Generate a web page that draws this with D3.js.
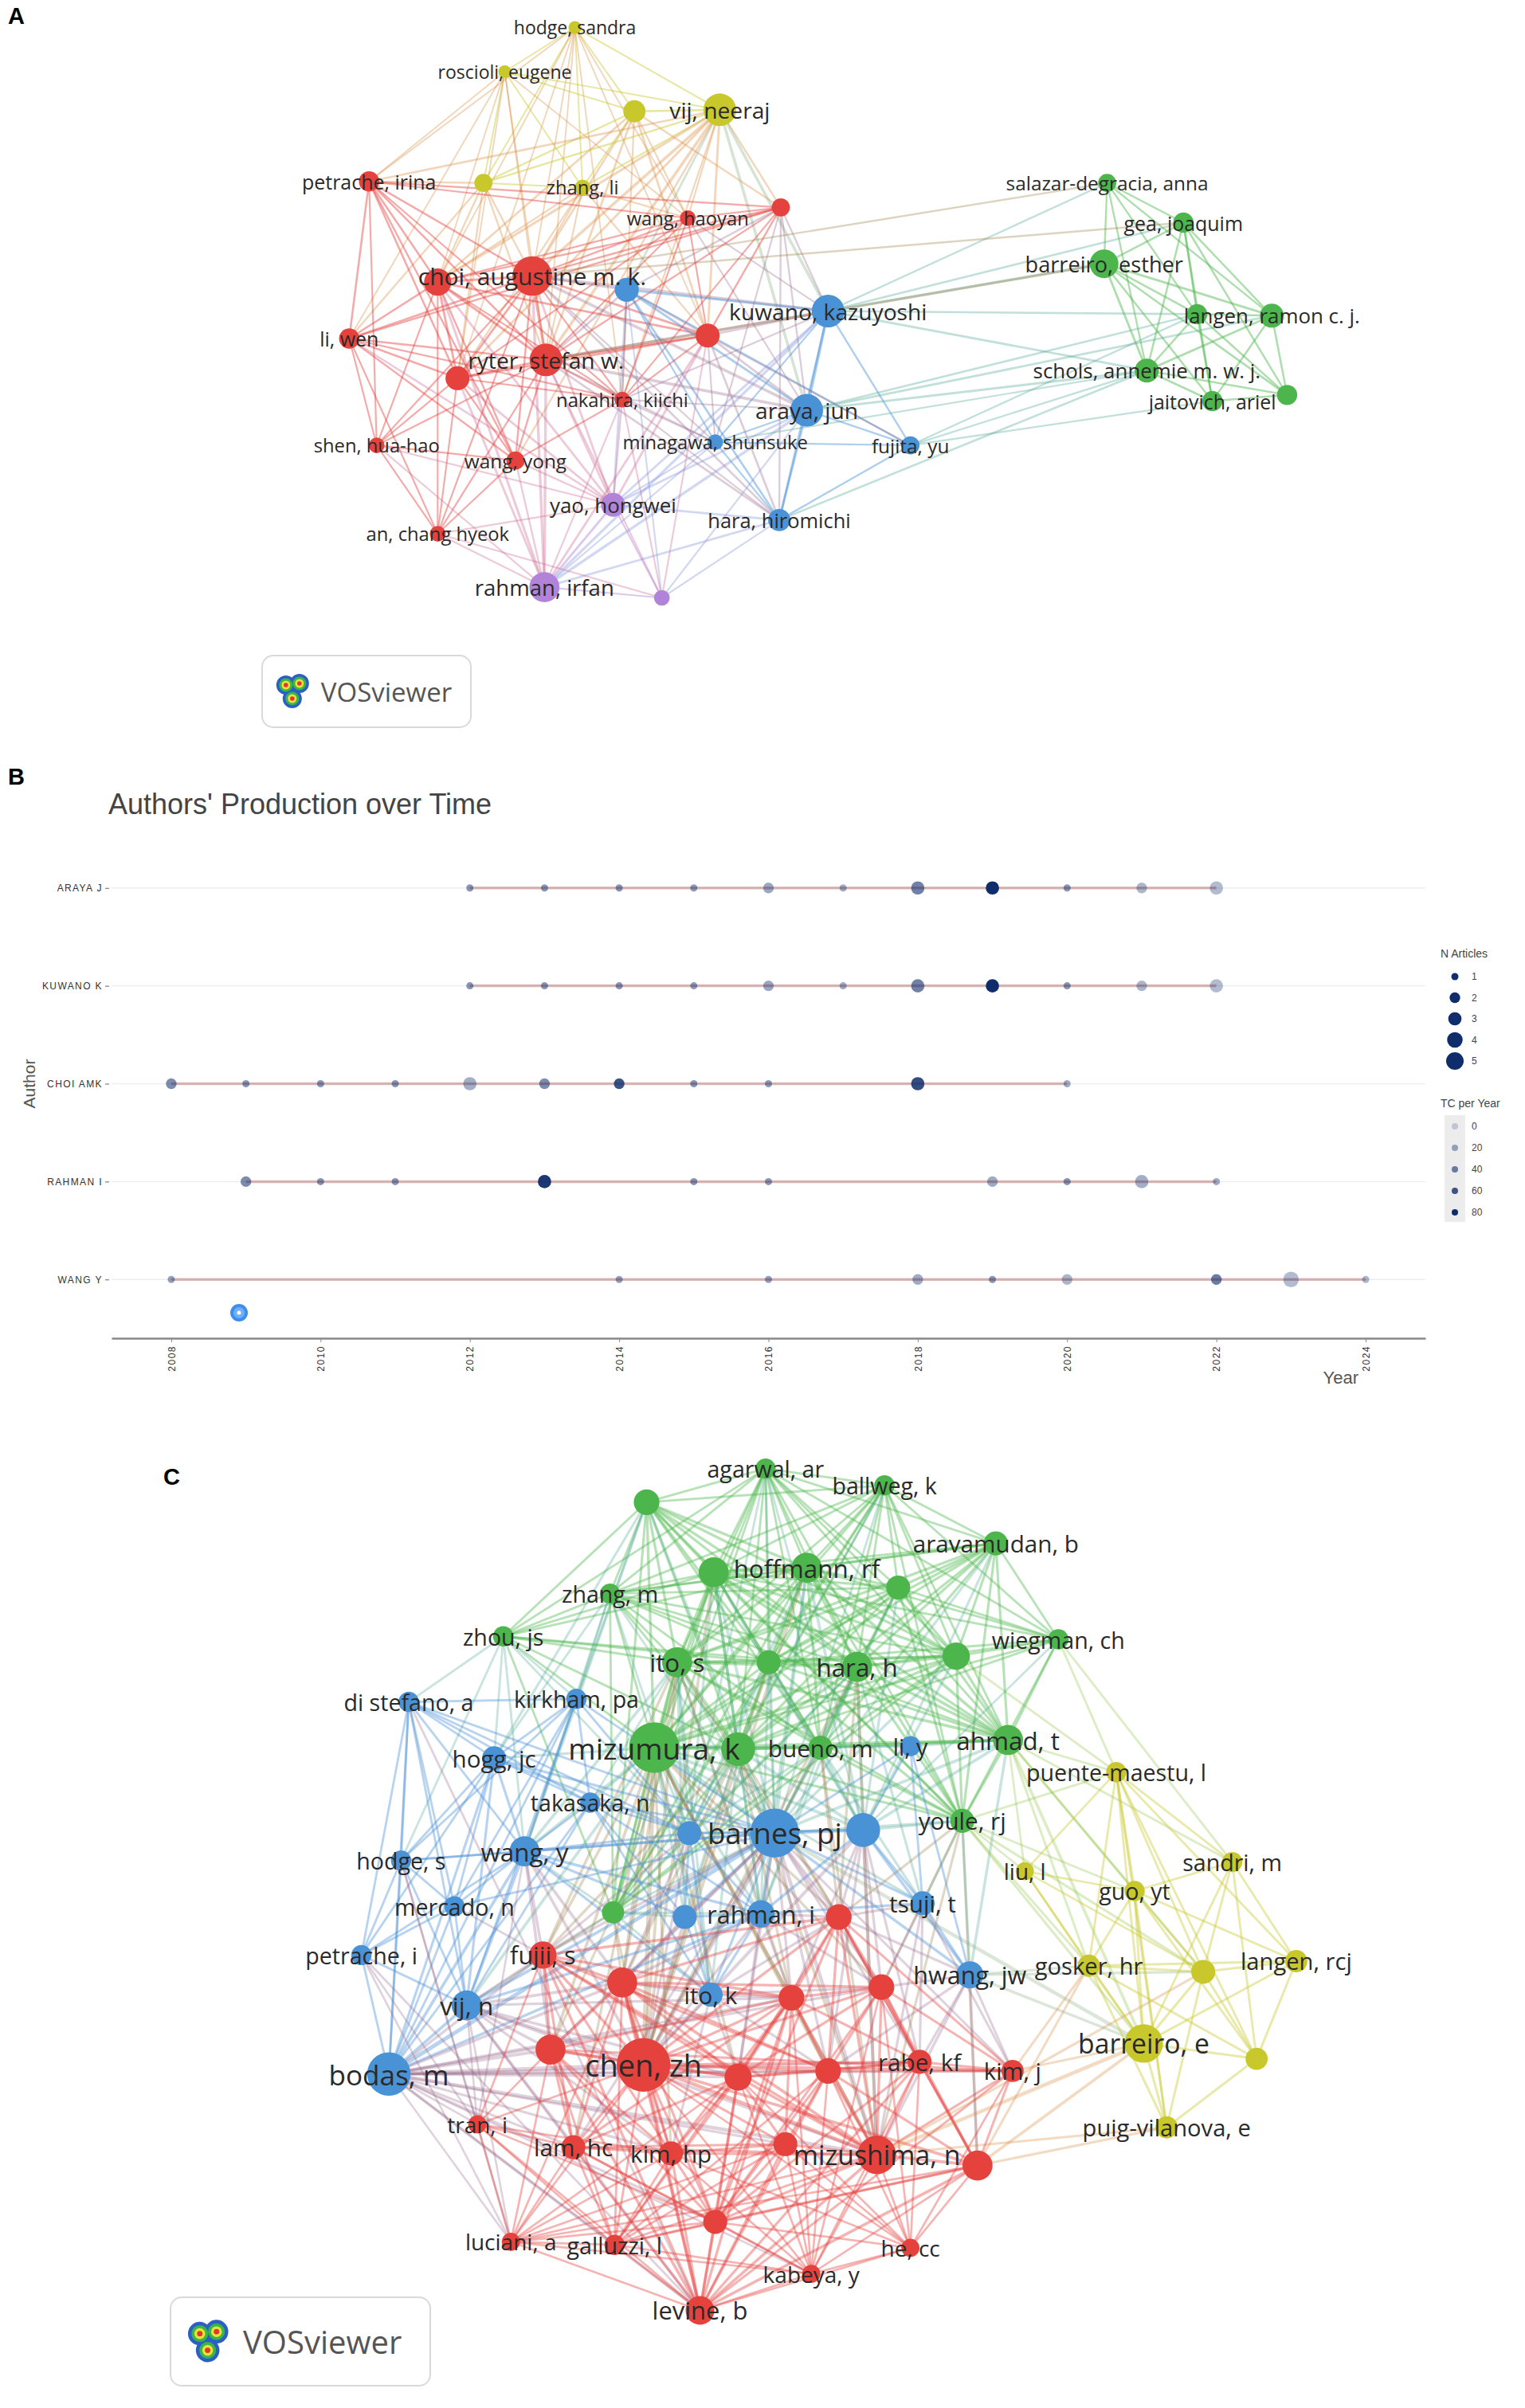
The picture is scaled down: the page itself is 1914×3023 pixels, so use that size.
<!DOCTYPE html>
<html>
<head>
<meta charset="utf-8">
<script src="https://cdn.jsdelivr.net/npm/d3@7"></script>
<style>
  body { margin: 0; background: #fff; }
  svg { display: block; }
</style>
</head>
<body>
<svg id="fig"></svg>
<script>
// ---------- cluster colours (VOSviewer) ----------
const clusterColors = {
  red: "#e5423e", green: "#4cb64c", blue: "#4a92d6", yellow: "#c8c82c", purple: "#b184da"
};

// ---------- panel A : nodes [id, label, cluster, layoutX, layoutY, documents] ----------
const nodesA = [
  ["hodge", "hodge, sandra", "yellow", 377, 18, 2],
  ["roscioli", "roscioli, eugene", "yellow", 331, 47, 2],
  ["y1", "", "yellow", 416, 73, 6],
  ["vij", "vij, neeraj", "yellow", 472, 72, 13],
  ["y2", "", "yellow", 317, 120, 4],
  ["zhangli", "zhang, li", "yellow", 382, 123, 3],
  ["petrache", "petrache, irina", "red", 242, 119, 5],
  ["wanghy", "wang, haoyan", "red", 451, 143, 3],
  ["r1", "", "red", 512, 136, 4],
  ["choi", "choi, augustine m. k.", "red", 349, 181, 19],
  ["r2", "", "red", 287, 185, 9],
  ["b1", "", "blue", 411, 190, 7],
  ["kuwano", "kuwano, kazuyoshi", "blue", 543, 204, 13],
  ["r3", "", "red", 464, 220, 7],
  ["liwen", "li, wen", "red", 229, 222, 5],
  ["ryter", "ryter, stefan w.", "red", 358, 236, 13],
  ["r4", "", "red", 300, 248, 7],
  ["nakahira", "nakahira, kiichi", "red", 408, 262, 3],
  ["araya", "araya, jun", "blue", 529, 269, 13],
  ["minagawa", "minagawa, shunsuke", "blue", 469, 290, 3],
  ["fujita", "fujita, yu", "blue", 597, 292, 4],
  ["shen", "shen, hua-hao", "red", 247, 292, 3],
  ["wangyong", "wang, yong", "red", 338, 302, 4],
  ["yao", "yao, hongwei", "purple", 402, 331, 7],
  ["hara", "hara, hiromichi", "blue", 511, 341, 6],
  ["an", "an, chang hyeok", "red", 287, 350, 3],
  ["rahman", "rahman, irfan", "purple", 357, 385, 11],
  ["p1", "", "purple", 434, 392, 3],
  ["salazar", "salazar-degracia, anna", "green", 726, 120, 4],
  ["gea", "gea, joaquim", "green", 776, 146, 5],
  ["barreiro", "barreiro, esther", "green", 724, 173, 10],
  ["g1", "", "green", 785, 206, 5],
  ["langen", "langen, ramon c. j.", "green", 834, 207, 7],
  ["schols", "schols, annemie m. w. j.", "green", 752, 243, 7],
  ["jaitovich", "jaitovich, ariel", "green", 795, 263, 5],
  ["g2", "", "green", 844, 259, 5]
];

const linksA = [
  "hodge: roscioli y1 vij y2 zhangli choi r2 ryter r3 wanghy nakahira petrache r4",
  "roscioli: y1 vij y2 zhangli choi r2 ryter r4 wanghy petrache liwen",
  "y1: vij y2 zhangli choi r2 ryter r3 r1 wanghy nakahira",
  "vij: y2 zhangli choi r2 ryter r3 r1 wanghy nakahira b1 kuwano araya r4 wangyong petrache",
  "y2: zhangli choi r2 ryter petrache r4 liwen",
  "zhangli: choi r2 ryter wanghy r3 r4",
  "petrache: choi r2 liwen ryter r4 shen wanghy r1 nakahira wangyong",
  "wanghy: r1 choi r2 ryter r3 r4 nakahira kuwano araya",
  "r1: choi r2 ryter r3 b1 kuwano araya liwen nakahira minagawa hara",
  "choi: r2 r3 liwen ryter r4 nakahira shen wangyong an b1 kuwano araya minagawa hara yao rahman",
  "r2: r3 liwen ryter r4 nakahira shen wangyong an yao rahman",
  "b1: kuwano araya minagawa hara yao ryter r3 nakahira fujita p1",
  "kuwano: r3 araya minagawa fujita hara yao salazar gea barreiro g1 schols ryter nakahira rahman",
  "r3: ryter r4 nakahira araya minagawa hara yao rahman p1 fujita",
  "liwen: ryter r4 shen wangyong an nakahira yao",
  "ryter: r4 nakahira shen wangyong an araya minagawa hara yao rahman p1",
  "r4: nakahira shen wangyong an yao rahman",
  "nakahira: wangyong araya minagawa hara yao rahman p1",
  "araya: minagawa fujita hara yao rahman p1 g1 schols langen",
  "minagawa: fujita hara yao rahman",
  "fujita: hara schols jaitovich g1",
  "shen: wangyong an yao rahman",
  "wangyong: an yao rahman",
  "yao: hara rahman p1",
  "hara: rahman p1",
  "an: rahman yao p1",
  "rahman: p1",
  "salazar: gea barreiro g1 langen schols choi",
  "gea: barreiro g1 langen schols jaitovich g2 choi",
  "barreiro: g1 langen schols jaitovich g2 ryter",
  "g1: langen schols jaitovich g2",
  "langen: schols jaitovich g2",
  "schols: jaitovich g2 hara minagawa",
  "jaitovich: g2"
];

// ---------- panel C : nodes [id, label, cluster, layoutX, layoutY, documents] ----------
const nodesC = [
  ["agarwal", "agarwal, ar", "green", 502, 963, 5],
  ["ballweg", "ballweg, k", "green", 580, 974, 5],
  ["ga", "", "green", 424, 985, 8],
  ["aravamudan", "aravamudan, b", "green", 653, 1012, 7],
  ["gb", "", "green", 468, 1031, 11],
  ["hoffmann", "hoffmann, rf", "green", 529, 1028, 11],
  ["gc", "", "green", 589, 1041, 7],
  ["zhangm", "zhang, m", "green", 400, 1045, 5],
  ["zhou", "zhou, js", "green", 330, 1073, 5],
  ["itos", "ito, s", "green", 444, 1090, 11],
  ["gd", "", "green", 504, 1090, 7],
  ["harah", "hara, h", "green", 562, 1093, 11],
  ["ge", "", "green", 627, 1086, 9],
  ["wiegman", "wiegman, ch", "green", 694, 1075, 5],
  ["mizumura", "mizumura, k", "green", 429, 1146, 31],
  ["gf", "", "green", 484, 1147, 14],
  ["bueno", "bueno, m", "green", 538, 1146, 7],
  ["ahmad", "ahmad, t", "green", 661, 1141, 11],
  ["youle", "youle, rj", "green", 631, 1194, 7],
  ["gg", "", "green", 402, 1254, 6],
  ["distefano", "di stefano, a", "blue", 268, 1116, 5],
  ["kirkham", "kirkham, pa", "blue", 378, 1114, 5],
  ["hogg", "hogg, jc", "blue", 324, 1153, 7],
  ["takasaka", "takasaka, n", "blue", 387, 1182, 5],
  ["hodges", "hodge, s", "blue", 263, 1220, 5],
  ["wangy", "wang, y", "blue", 344, 1214, 11],
  ["ba", "", "blue", 452, 1202, 7],
  ["barnes", "barnes, pj", "blue", 508, 1202, 29],
  ["bb", "", "blue", 566, 1200, 14],
  ["liy", "li, y", "blue", 597, 1145, 5],
  ["mercado", "mercado, n", "blue", 298, 1250, 5],
  ["bc", "", "blue", 449, 1257, 7],
  ["rahmani", "rahman, i", "blue", 499, 1255, 9],
  ["tsuji", "tsuji, t", "blue", 605, 1248, 7],
  ["petrachei", "petrache, i", "blue", 237, 1282, 5],
  ["vijn", "vij, n", "blue", 306, 1315, 11],
  ["itok", "ito, k", "blue", 466, 1308, 7],
  ["hwang", "hwang, jw", "blue", 636, 1295, 9],
  ["bodas", "bodas, m", "blue", 255, 1360, 23],
  ["fujii", "fujii, s", "red", 356, 1282, 9],
  ["ra", "", "red", 408, 1300, 11],
  ["rb", "", "red", 550, 1257, 8],
  ["rc", "", "red", 519, 1310, 8],
  ["rd", "", "red", 578, 1303, 8],
  ["re", "", "red", 361, 1344, 11],
  ["chen", "chen, zh", "red", 422, 1354, 35],
  ["rf", "", "red", 484, 1362, 9],
  ["rf2", "", "red", 543, 1358, 8],
  ["rabe", "rabe, kf", "red", 603, 1352, 7],
  ["kimj", "kim, j", "red", 664, 1358, 6],
  ["tran", "tran, i", "red", 313, 1393, 4],
  ["lam", "lam, hc", "red", 376, 1408, 7],
  ["kimhp", "kim, hp", "red", 440, 1412, 7],
  ["rj", "", "red", 515, 1406, 7],
  ["mizushima", "mizushima, n", "red", 575, 1413, 18],
  ["rh", "", "red", 641, 1420, 11],
  ["ri", "", "red", 469, 1457, 7],
  ["luciani", "luciani, a", "red", 335, 1470, 4],
  ["galluzzi", "galluzzi, l", "red", 403, 1472, 5],
  ["kabeya", "kabeya, y", "red", 532, 1491, 4],
  ["hecc", "he, cc", "red", 597, 1474, 4],
  ["levine", "levine, b", "red", 459, 1515, 10],
  ["puente", "puente-maestu, l", "yellow", 732, 1162, 5],
  ["liu", "liu, l", "yellow", 672, 1227, 4],
  ["sandri", "sandri, m", "yellow", 808, 1221, 5],
  ["guo", "guo, yt", "yellow", 744, 1240, 5],
  ["gosker", "gosker, hr", "yellow", 714, 1289, 6],
  ["ya", "", "yellow", 789, 1293, 7],
  ["langenr", "langen, rcj", "yellow", 850, 1286, 6],
  ["barreiroe", "barreiro, e", "yellow", 750, 1340, 18],
  ["yb", "", "yellow", 824, 1350, 6],
  ["puig", "puig-vilanova, e", "yellow", 765, 1395, 6]
];

const linksC = [
  "agarwal: ballweg ga aravamudan gb hoffmann gc zhangm itos gd harah ge mizumura gf bueno ahmad gg barnes wiegman youle zhou ba bb",
  "ballweg: ga aravamudan gb hoffmann gc itos gd harah ge wiegman mizumura gf bueno ahmad youle barnes zhangm gg ba",
  "ga: gb hoffmann zhangm zhou itos gd harah mizumura gf bueno gg wangy hogg kirkham ge youle ahmad barnes",
  "aravamudan: gb hoffmann gc itos gd harah ge wiegman mizumura gf ahmad youle barnes bb zhangm bueno",
  "gb: hoffmann gc zhangm zhou itos gd harah ge wiegman mizumura gf bueno ahmad youle gg barnes chen bb ba rahmani",
  "hoffmann: gc itos gd harah ge wiegman mizumura gf bueno ahmad youle barnes ba bb zhangm zhou gg rahmani chen",
  "gc: itos gd harah ge wiegman mizumura gf bueno ahmad youle zhangm barnes bb",
  "zhangm: zhou itos gd mizumura gf gg wangy hogg kirkham harah ge bueno ahmad barnes ba",
  "zhou: itos mizumura gf gg distefano kirkham hogg wangy ba hodges harah gd",
  "itos: gd harah ge mizumura gf bueno ahmad youle gg barnes ba bc chen ra wangy takasaka rahmani itok fujii rb rc",
  "gd: harah ge wiegman mizumura gf bueno ahmad youle barnes bb gg ba rahmani chen",
  "harah: ge wiegman mizumura gf bueno ahmad youle barnes bb rahmani chen mizushima gg ba tsuji rb",
  "ge: wiegman mizumura gf bueno ahmad youle barnes bb gg puente",
  "wiegman: mizumura gf ahmad youle puente sandri bb",
  "mizumura: gf bueno ahmad youle gg wangy ba barnes bb bc rahmani itok fujii ra chen mizushima vijn hogg takasaka liy tsuji rb rc re rf kimhp lam rd rf2",
  "gf: bueno ahmad youle gg barnes bb rahmani chen ra ba bc itok fujii rb rc mizushima",
  "bueno: ahmad youle barnes bb chen mizushima rb gg ba liy tsuji rahmani",
  "ahmad: youle barnes bb puente liu guo gosker barreiroe liy hwang sandri ya",
  "youle: barnes bb puente liu gosker barreiroe mizushima rh tsuji hwang guo ya rb rd",
  "gg: wangy ba barnes bc fujii ra chen vijn rahmani itok re",
  "distefano: kirkham hogg hodges wangy barnes petrachei vijn bodas mercado takasaka ba levine",
  "kirkham: hogg takasaka wangy barnes bodas vijn ba hodges mercado",
  "hogg: takasaka hodges wangy barnes petrachei vijn bodas mercado ba",
  "takasaka: wangy barnes itok bodas vijn ba bc rahmani",
  "hodges: wangy barnes petrachei vijn bodas mercado tran luciani",
  "wangy: ba barnes mercado petrachei vijn bodas fujii chen bc rahmani itok re tran ra",
  "ba: barnes bb bc rahmani chen ra itok fujii",
  "barnes: bb liy bc rahmani tsuji vijn itok hwang bodas fujii ra rb chen mizushima barreiroe rabe kimj rc rd rf rf2 re lam mercado",
  "bb: liy rahmani tsuji hwang rb chen mizushima rc rd rf2 rabe",
  "liy: tsuji hwang",
  "mercado: petrachei vijn bodas fujii",
  "bc: rahmani itok ra chen",
  "rahmani: tsuji vijn itok bodas chen ra rb rc rd rf",
  "tsuji: hwang rb rd mizushima rabe kimj",
  "petrachei: vijn bodas levine luciani tran",
  "vijn: bodas fujii re chen tran lam luciani ra rc rf mizushima kimhp levine",
  "itok: ra rc chen rf rb rd rf2 kimhp",
  "hwang: rd rabe kimj mizushima rh gosker rb rf2 ya barreiroe",
  "bodas: fujii re chen tran lam luciani levine kimhp galluzzi ra rf rc rd rf2 mizushima rj ri kimj rabe kabeya",
  "fujii: ra rc re chen rf tran lam kimhp mizushima rb rf2 levine",
  "ra: rb rc rd re chen rf rf2 lam kimhp mizushima levine ri luciani galluzzi",
  "rb: rc rd chen rf rf2 rabe mizushima rh kimj ri",
  "rc: rd re chen rf rf2 rabe lam kimhp rj mizushima ri levine galluzzi kabeya",
  "rd: chen rf rf2 rabe kimj mizushima rh ri kabeya hecc",
  "re: chen rf tran lam kimhp luciani galluzzi levine ri kimj",
  "chen: rf rf2 rabe kimj tran lam kimhp rj mizushima rh ri luciani galluzzi kabeya hecc levine",
  "rf: rf2 rabe lam kimhp rj mizushima ri galluzzi levine kabeya hecc luciani",
  "rf2: rabe kimj rj mizushima rh ri kabeya hecc levine galluzzi",
  "rabe: kimj mizushima rh ri hecc kabeya levine",
  "kimj: mizushima rh barreiroe gosker hecc levine",
  "tran: lam kimhp luciani galluzzi levine ri",
  "lam: kimhp rj mizushima luciani galluzzi levine ri kabeya",
  "kimhp: rj mizushima ri luciani galluzzi levine kabeya hecc",
  "rj: mizushima ri kabeya levine luciani galluzzi hecc",
  "mizushima: rh ri luciani galluzzi kabeya hecc levine barreiroe ya puig",
  "rh: ri kabeya hecc levine barreiroe gosker puig luciani galluzzi",
  "ri: luciani galluzzi kabeya hecc levine",
  "luciani: galluzzi levine kabeya",
  "galluzzi: levine kabeya",
  "kabeya: hecc levine",
  "hecc: levine",
  "puente: liu sandri guo gosker ya langenr barreiroe yb puig",
  "liu: guo gosker ya barreiroe",
  "sandri: guo ya langenr barreiroe yb",
  "guo: gosker ya langenr barreiroe yb puig",
  "gosker: ya langenr barreiroe yb puig",
  "ya: langenr barreiroe yb puig",
  "langenr: barreiroe yb",
  "barreiroe: yb puig",
  "yb: puig"
];

// ---------- panel B : authors' production over time [year, N articles, TC per year] ----------
const authorsB = ["ARAYA J", "KUWANO K", "CHOI AMK", "RAHMAN I", "WANG Y"];
const arayaJ = [[2012,1,30],[2013,1,30],[2014,1,30],[2015,1,28],[2016,2,22],[2017,1,20],[2018,3,40],[2019,3,80],[2020,1,30],[2021,2,15],[2022,3,12]];
const kuwanoK = [[2012,1,30],[2013,1,30],[2014,1,30],[2015,1,28],[2016,2,22],[2017,1,20],[2018,3,40],[2019,3,80],[2020,1,30],[2021,2,15],[2022,3,12]];
const choiAMK = [[2008,2,35],[2009,1,30],[2010,1,30],[2011,1,30],[2012,3,18],[2013,2,35],[2014,2,62],[2015,1,30],[2016,1,28],[2018,3,65],[2020,1,20]];
const rahmanI = [[2009,2,35],[2010,1,30],[2011,1,30],[2013,3,75],[2015,1,30],[2016,1,28],[2019,2,20],[2020,1,30],[2021,3,18],[2022,1,20]];
const wangY = [[2008,1,25],[2014,1,25],[2016,1,25],[2018,2,20],[2019,1,30],[2020,2,15],[2022,2,42],[2023,4,12],[2024,1,15]];
const yearTicks = [2008, 2010, 2012, 2014, 2016, 2018, 2020, 2022, 2024];
const nArticlesLegend = [1, 2, 3, 4, 5];
const tcLegend = [0, 20, 40, 60, 80];

// ---------- figure ----------
const W = 1914, H = 3023;
const svg = d3.select("#fig").attr("width", W).attr("height", H);
svg.append("rect").attr("width", W).attr("height", H).attr("fill", "#fff");

// layout coordinates were read on a 1000-wide grid of the figure
const sx = d3.scaleLinear().domain([0, 1000]).range([0, W]);
const sy = d3.scaleLinear().domain([0, 1579]).range([0, H]);
const rScale = d3.scaleSqrt().domain([0, 40]).range([0, 36]);

function toNodes(rows) {
  return rows.map(([id, label, cluster, x, y, docs]) => ({id, label, cluster, x, y, docs}));
}

function drawNetwork(g, rows, linkLines, opts) {
  const nodes = toNodes(rows);
  const byId = new Map(nodes.map(d => [d.id, d]));
  const links = [];
  const seen = new Set();
  linkLines.forEach(line => {
    const [s, rest] = line.split(":");
    const src = byId.get(s.trim());
    rest.trim().split(/\s+/).forEach(t => {
      const tgt = byId.get(t);
      if (!src || !tgt) { console.warn("missing node", s, t); return; }
      const key = [src.id, tgt.id].sort().join("|");
      if (seen.has(key)) return;
      seen.add(key);
      links.push({source: src, target: tgt});
    });
  });

  const widthScale = d3.scaleSqrt().domain([1, 30]).range(opts.linkWidth).clamp(true);
  const linkColor = d => {
    const a = clusterColors[d.source.cluster], b = clusterColors[d.target.cluster];
    return a === b ? a : d3.interpolateRgb(a, b)(0.5);
  };

  g.append("g")
    .selectAll("line")
    .data(links)
    .join("line")
      .attr("x1", d => sx(d.source.x))
      .attr("y1", d => sy(d.source.y))
      .attr("x2", d => sx(d.target.x))
      .attr("y2", d => sy(d.target.y))
      .attr("stroke", linkColor)
      .attr("stroke-opacity", d => d.source.cluster === d.target.cluster ? opts.linkOpacity : opts.linkOpacity * 0.75)
      .attr("stroke-width", d => widthScale(Math.min(d.source.docs, d.target.docs)))
      .attr("stroke-linecap", "round");

  g.append("g")
    .selectAll("circle")
    .data(nodes)
    .join("circle")
      .attr("cx", d => sx(d.x))
      .attr("cy", d => sy(d.y))
      .attr("r", d => rScale(d.docs))
      .attr("fill", d => clusterColors[d.cluster]);

  g.append("g")
    .selectAll("text")
    .data(nodes.filter(d => d.label))
    .join("text")
      .attr("x", d => sx(d.x))
      .attr("y", d => sy(d.y))
      .attr("text-anchor", "middle")
      .attr("dominant-baseline", "central")
      .attr("font-family", "'Open Sans', sans-serif")
      .attr("font-size", d => opts.font(d.docs))
      .attr("fill", "#2a2a2a")
      .text(d => d.label);
}

// VOSviewer badge
function drawLogo(g, x, y, w, h, fs) {
  const logo = g.append("g").attr("transform", `translate(${x},${y})`);
  logo.append("rect")
    .attr("width", w).attr("height", h).attr("rx", 14)
    .attr("fill", "#fff").attr("stroke", "#d9d9d9").attr("stroke-width", 2);
  const k = h / 90;
  const icon = logo.append("g").attr("transform", `translate(${h * 0.42},${h * 0.5}) scale(${k})`);
  const lobes = [[-8, -8], [9, -10], [0, 9]];
  [["#2b5fc4", 12], ["#39b54a", 8.5], ["#e8e23a", 5.5], ["#e2372b", 2.8]].forEach(([c, r]) => {
    icon.selectAll(null).data(lobes).join("circle")
      .attr("cx", d => d[0]).attr("cy", d => d[1]).attr("r", r).attr("fill", c);
  });
  logo.append("text")
    .attr("x", h * 0.82).attr("y", h * 0.5)
    .attr("dominant-baseline", "central")
    .attr("font-family", "'Open Sans', sans-serif")
    .attr("font-size", fs)
    .attr("fill", "#555")
    .text("VOSviewer");
}

function panelLetter(letter, x, y) {
  svg.append("text")
    .attr("x", x).attr("y", y)
    .attr("font-family", "'Liberation Sans', Arial, sans-serif")
    .attr("font-weight", "bold")
    .attr("font-size", 29)
    .attr("fill", "#000")
    .text(letter);
}

// ---------- panel A ----------
const gA = svg.append("g");
drawNetwork(gA, nodesA, linksA, {
  linkOpacity: 0.45,
  linkWidth: [1.6, 5],
  font: d3.scaleSqrt().domain([2, 19]).range([23, 30]).clamp(true)
});
drawLogo(gA, 329, 823, 262, 90, 33);
panelLetter("A", 10, 30);

// ---------- panel C ----------
const gC = svg.append("g");
drawNetwork(gC, nodesC, linksC, {
  linkOpacity: 0.4,
  linkWidth: [1.8, 5.5],
  font: d3.scaleSqrt().domain([4, 35]).range([28, 38]).clamp(true)
});
drawLogo(gC, 214, 2884, 326, 111, 40);
panelLetter("C", 205, 1864);

// ---------- panel B ----------
panelLetter("B", 10, 985);
const gB = svg.append("g");
const plotB = {left: 140, right: 1789, top: 1041, bottom: 1680};
const seriesB = [arayaJ, kuwanoK, choiAMK, rahmanI, wangY];
const fontB = "'Liberation Sans', Arial, sans-serif";

const yearExtent = d3.extent(seriesB.flat(), d => d[0]);
const pad = (yearExtent[1] - yearExtent[0]) * 0.05;
const xB = d3.scaleLinear().domain([yearExtent[0] - pad, yearExtent[1] + pad]).range([plotB.left, plotB.right]);
const yB = d3.scalePoint().domain(authorsB).range([plotB.top, plotB.bottom]).padding(0.6);
const sizeB = d3.scaleSqrt().domain([1, 5]).range([4.5, 11]);
const alphaB = d3.scaleLinear().domain([0, 80]).range([0.2, 1]);
const navy = "#0f2d6b";

gB.append("text")
  .attr("x", 136).attr("y", 1022)
  .attr("font-family", fontB)
  .attr("font-size", 36)
  .attr("fill", "#444")
  .text("Authors' Production over Time");

// horizontal grid
gB.append("g")
  .selectAll("line")
  .data(authorsB)
  .join("line")
    .attr("x1", plotB.left).attr("x2", plotB.right)
    .attr("y1", d => yB(d)).attr("y2", d => yB(d))
    .attr("stroke", "#eeeeee").attr("stroke-width", 1.5);

// time span lines
gB.append("g")
  .selectAll("line")
  .data(seriesB.map((s, i) => ({author: authorsB[i], ext: d3.extent(s, d => d[0])})))
  .join("line")
    .attr("x1", d => xB(d.ext[0])).attr("x2", d => xB(d.ext[1]))
    .attr("y1", d => yB(d.author)).attr("y2", d => yB(d.author))
    .attr("stroke", "#8b1a1a").attr("stroke-opacity", 0.3).attr("stroke-width", 3.5);

// points
gB.append("g")
  .selectAll("circle")
  .data(seriesB.flatMap((s, i) => s.map(d => ({author: authorsB[i], year: d[0], n: d[1], tc: d[2]}))))
  .join("circle")
    .attr("cx", d => xB(d.year))
    .attr("cy", d => yB(d.author))
    .attr("r", d => sizeB(d.n))
    .attr("fill", navy)
    .attr("fill-opacity", d => alphaB(d.tc));

// axes
const xAxisB = gB.append("g")
  .attr("transform", `translate(0,${plotB.bottom})`)
  .call(d3.axisBottom(xB).tickValues(yearTicks).tickFormat(d3.format("d")).tickSize(5).tickSizeOuter(0));
xAxisB.select(".domain").attr("stroke", "#888").attr("stroke-width", 2.5);
xAxisB.selectAll(".tick line").attr("stroke", "#888");
xAxisB.selectAll(".tick text")
  .attr("transform", "rotate(-90)")
  .attr("x", -9).attr("y", 0).attr("dy", "0.35em")
  .attr("text-anchor", "end")
  .attr("font-family", fontB)
  .attr("font-size", 12)
  .attr("letter-spacing", 1.5)
  .attr("fill", "#333");

const yAxisB = gB.append("g")
  .attr("transform", `translate(${plotB.left - 3},0)`)
  .call(d3.axisLeft(yB).tickSize(5));
yAxisB.select(".domain").remove();
yAxisB.selectAll(".tick line").attr("stroke", "#666");
yAxisB.selectAll(".tick text")
  .attr("font-family", fontB)
  .attr("font-size", 12)
  .attr("letter-spacing", 1.4)
  .attr("fill", "#333");

gB.append("text")
  .attr("transform", `translate(44,${(plotB.top + plotB.bottom) / 2}) rotate(-90)`)
  .attr("text-anchor", "middle")
  .attr("font-family", fontB)
  .attr("font-size", 21)
  .attr("fill", "#555")
  .text("Author");

gB.append("text")
  .attr("x", 1705).attr("y", 1737)
  .attr("text-anchor", "end")
  .attr("font-family", fontB)
  .attr("font-size", 22)
  .attr("fill", "#555")
  .text("Year");

// small blue badge under the plot
gB.append("circle").attr("cx", 300).attr("cy", 1648).attr("r", 11).attr("fill", "#3d8ef0");
gB.append("circle").attr("cx", 300).attr("cy", 1648).attr("r", 7).attr("fill", "#6fb0f7");
gB.append("circle").attr("cx", 300).attr("cy", 1648).attr("r", 2.5).attr("fill", "#fff");

// legends
const legN = d3.scalePoint().domain(nArticlesLegend).range([1226, 1332]);
const legTC = d3.scalePoint().domain(tcLegend).range([1414, 1522]);

gB.append("text").attr("x", 1808).attr("y", 1202)
  .attr("font-family", fontB).attr("font-size", 14).attr("fill", "#444").text("N Articles");
gB.append("g").selectAll("circle").data(nArticlesLegend).join("circle")
  .attr("cx", 1826).attr("cy", d => legN(d)).attr("r", d => sizeB(d)).attr("fill", navy);
gB.append("g").selectAll("text").data(nArticlesLegend).join("text")
  .attr("x", 1847).attr("y", d => legN(d)).attr("dy", "0.35em")
  .attr("font-family", fontB).attr("font-size", 12).attr("fill", "#444").text(d => d);

gB.append("text").attr("x", 1808).attr("y", 1390)
  .attr("font-family", fontB).attr("font-size", 14).attr("fill", "#444").text("TC per Year");
gB.append("rect").attr("x", 1813).attr("y", 1400).attr("width", 26).attr("height", 134).attr("fill", "#ececec");
gB.append("g").selectAll("circle").data(tcLegend).join("circle")
  .attr("cx", 1826).attr("cy", d => legTC(d)).attr("r", 4).attr("fill", navy).attr("fill-opacity", d => alphaB(d));
gB.append("g").selectAll("text").data(tcLegend).join("text")
  .attr("x", 1847).attr("y", d => legTC(d)).attr("dy", "0.35em")
  .attr("font-family", fontB).attr("font-size", 12).attr("fill", "#444").text(d => d);
</script>
</body>
</html>
